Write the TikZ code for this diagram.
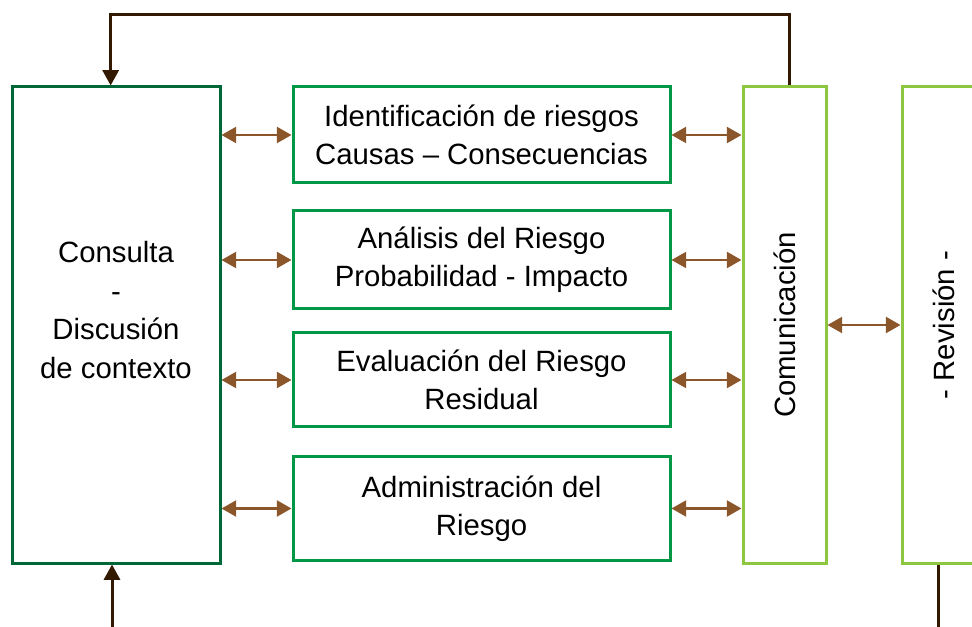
\documentclass[tikz,border=0pt]{standalone}
\usepackage{fontspec}
\setmainfont{Liberation Sans}
\usetikzlibrary{arrows.meta, positioning}
\definecolor{darkgreen}{RGB}{0,104,56}
\definecolor{midgreen}{RGB}{0,152,70}
\definecolor{lightgreen}{RGB}{141,198,63}
\definecolor{arrowbrown}{RGB}{139,87,42}
\definecolor{darkbrown}{RGB}{51,25,0}
\tikzstyle{sidebox} = [rectangle, minimum width=156pt, minimum height=357pt, draw=darkgreen, line width=2.25pt]
\tikzstyle{stepbox} = [rectangle, minimum width=282.75pt, text centered, align=center, draw=midgreen, line width=2.25pt]
\tikzstyle{commbox} = [rectangle, minimum width=62.25pt, minimum height=357pt, draw=lightgreen, line width=2.25pt]
\tikzstyle{arrow} = [draw=arrowbrown, line width=1.7pt, {Triangle[length=11pt,width=12pt]}-{Triangle[length=11pt,width=12pt]}]
\tikzstyle{feedback} = [draw=darkbrown, line width=2.25pt, -{Triangle[length=11.5pt,width=12pt]}]

\begin{document}
\begin{tikzpicture}[x=0.75pt, y=-0.75pt, font=\fontsize{22}{28.8}\selectfont]
\useasboundingbox (0,0) rectangle (972,627);

\node (consulta) [sidebox] at (116,325) {};
\node (consultatxt) [align=center] at (116,310) {Consulta\\-\\Discusión\\de contexto};

\node (ident) [stepbox, minimum height=72pt] at (481.5,135) {Identificación de riesgos\\Causas -- Consecuencias};
\node (analisis) [stepbox, minimum height=73.5pt] at (481.5,260) {Análisis del Riesgo\\Probabilidad - Impacto};
\node (evaluacion) [stepbox, minimum height=70.5pt] at (481.5,380) {Evaluación del Riesgo\\Residual};
\node (admin) [stepbox, minimum height=77.25pt] at (481.5,508.5) {Administración del\\Riesgo};

\node (comunic) [commbox] at (784.5,325) {\rotatebox{90}{Comunicación}};
\node (revision) [commbox] at (943.5,325) {\rotatebox{90}{- Revisión -}};

\foreach \n in {ident, analisis, evaluacion, admin} {
  \draw [arrow] (consulta.east |- \n.west) -- (\n.west);
  \draw [arrow] (\n.east) -- (comunic.west |- \n.east);
}
\draw [arrow] (comunic.east) -- (revision.west);

% lazo de retroalimentacion
\coordinate (topline) at (450,15);
\coordinate (inlet) at (112,627);
\coordinate (outlet) at (938,627);
\draw [feedback] ([xshift=3.5]comunic.north) |- (topline) -| ([xshift=-4]consulta.north);
\draw [feedback] (inlet) -- (inlet |- consulta.south);
\draw [feedback, -] (outlet |- revision.south) -- (outlet);
\end{tikzpicture}
\end{document}
